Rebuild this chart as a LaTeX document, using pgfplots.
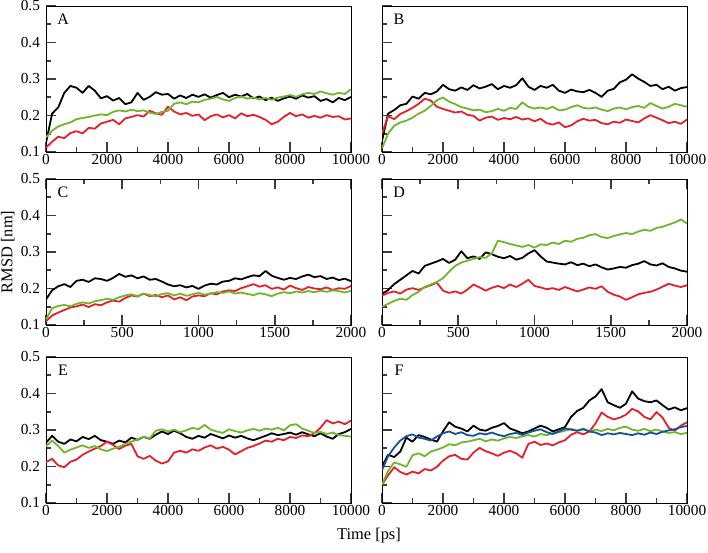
\documentclass[border=0pt]{standalone}
\usepackage{pgfplots}
\usepackage{pgfplotstable}
\pgfplotsset{compat=1.18}
\usepackage{fontspec}
\setmainfont{Liberation Serif}
\definecolor{cred}{RGB}{228,32,42}
\definecolor{cgreen}{RGB}{112,182,42}
\definecolor{cblue}{RGB}{22,82,152}
\definecolor{cframe}{RGB}{60,60,60}

\pgfplotstableread{
t k r g
0 0.125 0.112 0.140
200 0.205 0.128 0.158
400 0.222 0.142 0.170
600 0.262 0.138 0.176
800 0.281 0.152 0.181
1000 0.276 0.157 0.190
1200 0.262 0.151 0.193
1400 0.281 0.166 0.196
1600 0.268 0.164 0.200
1800 0.247 0.178 0.203
2000 0.253 0.183 0.201
2200 0.241 0.188 0.210
2400 0.248 0.176 0.214
2600 0.231 0.192 0.211
2800 0.236 0.196 0.216
3000 0.262 0.201 0.212
3200 0.243 0.197 0.214
3400 0.251 0.213 0.208
3600 0.264 0.206 0.204
3800 0.257 0.202 0.210
4000 0.259 0.224 0.213
4200 0.246 0.211 0.232
4400 0.255 0.203 0.236
4600 0.248 0.207 0.231
4800 0.257 0.199 0.238
5000 0.251 0.203 0.236
5200 0.258 0.187 0.243
5400 0.249 0.198 0.246
5600 0.256 0.203 0.251
5800 0.262 0.195 0.244
6000 0.250 0.201 0.240
6200 0.257 0.192 0.248
6400 0.252 0.206 0.252
6600 0.259 0.198 0.246
6800 0.247 0.202 0.249
7000 0.252 0.196 0.244
7200 0.242 0.188 0.248
7400 0.249 0.176 0.243
7600 0.240 0.183 0.249
7800 0.247 0.196 0.252
8000 0.252 0.207 0.256
8200 0.246 0.198 0.251
8400 0.255 0.203 0.258
8600 0.249 0.194 0.262
8800 0.253 0.199 0.259
9000 0.240 0.194 0.266
9200 0.245 0.201 0.261
9400 0.236 0.196 0.257
9600 0.248 0.198 0.262
9800 0.242 0.189 0.259
10000 0.251 0.192 0.272
}\tabA

\pgfplotstableread{
t k r g
0 0.130 0.150 0.110
200 0.205 0.198 0.150
400 0.215 0.190 0.172
600 0.228 0.204 0.181
800 0.232 0.212 0.186
1000 0.252 0.221 0.194
1200 0.246 0.232 0.205
1400 0.262 0.246 0.213
1600 0.258 0.241 0.226
1800 0.266 0.224 0.242
2000 0.284 0.218 0.249
2200 0.272 0.213 0.238
2400 0.268 0.208 0.231
2600 0.277 0.211 0.223
2800 0.270 0.202 0.219
3000 0.283 0.199 0.214
3200 0.274 0.186 0.216
3400 0.279 0.194 0.209
3600 0.286 0.197 0.212
3800 0.272 0.188 0.218
4000 0.281 0.193 0.213
4200 0.276 0.190 0.221
4400 0.283 0.196 0.218
4600 0.302 0.189 0.236
4800 0.279 0.192 0.224
5000 0.270 0.184 0.219
5200 0.281 0.191 0.222
5400 0.276 0.179 0.218
5600 0.284 0.175 0.224
5800 0.268 0.181 0.214
6000 0.262 0.168 0.216
6200 0.271 0.173 0.223
6400 0.266 0.184 0.228
6600 0.264 0.191 0.221
6800 0.270 0.186 0.219
7000 0.262 0.188 0.222
7200 0.251 0.179 0.216
7400 0.268 0.176 0.212
7600 0.273 0.183 0.219
7800 0.291 0.180 0.222
8000 0.298 0.189 0.217
8200 0.313 0.185 0.223
8400 0.301 0.181 0.226
8600 0.292 0.192 0.221
8800 0.281 0.201 0.234
9000 0.284 0.194 0.226
9200 0.272 0.187 0.219
9400 0.279 0.179 0.224
9600 0.268 0.183 0.232
9800 0.275 0.177 0.228
10000 0.278 0.189 0.224
}\tabB

\pgfplotstableread{
t k r g
0 0.170 0.110 0.115
40 0.195 0.126 0.146
80 0.206 0.134 0.152
120 0.212 0.141 0.155
160 0.204 0.148 0.151
200 0.221 0.151 0.158
240 0.224 0.156 0.162
280 0.218 0.149 0.159
320 0.228 0.157 0.165
360 0.226 0.154 0.168
400 0.221 0.162 0.172
440 0.229 0.167 0.169
480 0.240 0.164 0.176
520 0.232 0.174 0.181
560 0.236 0.181 0.184
600 0.228 0.178 0.179
640 0.233 0.186 0.186
680 0.224 0.179 0.182
720 0.226 0.182 0.178
760 0.219 0.176 0.185
800 0.211 0.181 0.187
840 0.206 0.170 0.181
880 0.209 0.176 0.186
920 0.203 0.168 0.180
960 0.207 0.178 0.184
1000 0.199 0.181 0.188
1040 0.208 0.179 0.183
1080 0.213 0.187 0.186
1120 0.211 0.184 0.190
1160 0.219 0.192 0.188
1200 0.221 0.195 0.192
1240 0.228 0.193 0.186
1280 0.225 0.201 0.189
1320 0.231 0.206 0.185
1360 0.236 0.212 0.182
1400 0.234 0.205 0.187
1440 0.248 0.209 0.184
1480 0.235 0.199 0.179
1520 0.229 0.203 0.186
1560 0.224 0.197 0.190
1600 0.229 0.208 0.187
1640 0.226 0.201 0.192
1680 0.233 0.196 0.189
1720 0.238 0.204 0.193
1760 0.231 0.200 0.190
1800 0.234 0.198 0.194
1840 0.226 0.203 0.191
1880 0.230 0.196 0.195
1920 0.223 0.201 0.193
1960 0.227 0.199 0.189
2000 0.220 0.207 0.194
}\tabC

\pgfplotstableread{
t k r g
0 0.185 0.180 0.150
40 0.196 0.188 0.158
80 0.212 0.192 0.166
120 0.224 0.186 0.172
160 0.236 0.197 0.169
200 0.248 0.201 0.182
240 0.241 0.196 0.191
280 0.262 0.203 0.204
320 0.268 0.209 0.211
360 0.274 0.216 0.218
400 0.281 0.194 0.228
440 0.270 0.188 0.246
480 0.279 0.192 0.262
520 0.302 0.186 0.271
560 0.283 0.197 0.276
600 0.288 0.211 0.281
640 0.281 0.203 0.286
680 0.299 0.194 0.284
720 0.294 0.202 0.296
760 0.287 0.207 0.331
800 0.283 0.201 0.327
840 0.289 0.211 0.322
880 0.279 0.204 0.318
920 0.284 0.213 0.314
960 0.296 0.224 0.319
1000 0.305 0.207 0.312
1040 0.288 0.203 0.321
1080 0.274 0.198 0.319
1120 0.271 0.201 0.326
1160 0.268 0.196 0.322
1200 0.266 0.204 0.331
1240 0.272 0.198 0.328
1280 0.264 0.192 0.336
1320 0.268 0.197 0.339
1360 0.261 0.203 0.346
1400 0.266 0.199 0.349
1440 0.258 0.206 0.341
1480 0.252 0.191 0.338
1520 0.255 0.183 0.344
1560 0.259 0.178 0.348
1600 0.257 0.169 0.352
1640 0.264 0.176 0.349
1680 0.268 0.184 0.356
1720 0.275 0.188 0.361
1760 0.266 0.191 0.358
1800 0.263 0.197 0.366
1840 0.269 0.205 0.369
1880 0.259 0.213 0.375
1920 0.255 0.208 0.381
1960 0.249 0.204 0.389
2000 0.246 0.209 0.378
}\tabD

\pgfplotstableread{
t k r g
0 0.265 0.212 0.255
200 0.284 0.221 0.271
400 0.268 0.203 0.256
600 0.262 0.198 0.238
800 0.274 0.213 0.246
1000 0.269 0.219 0.252
1200 0.281 0.232 0.258
1400 0.275 0.241 0.251
1600 0.284 0.249 0.256
1800 0.272 0.256 0.247
2000 0.268 0.268 0.242
2200 0.262 0.259 0.249
2400 0.271 0.248 0.254
2600 0.266 0.257 0.262
2800 0.279 0.262 0.268
3000 0.273 0.228 0.274
3200 0.281 0.221 0.281
3400 0.276 0.229 0.277
3600 0.287 0.216 0.298
3800 0.296 0.208 0.302
4000 0.289 0.214 0.296
4200 0.298 0.238 0.301
4400 0.291 0.243 0.294
4600 0.281 0.238 0.299
4800 0.276 0.247 0.306
5000 0.284 0.243 0.302
5200 0.279 0.252 0.314
5400 0.289 0.258 0.301
5600 0.283 0.249 0.296
5800 0.277 0.254 0.292
6000 0.285 0.246 0.302
6200 0.279 0.233 0.297
6400 0.284 0.242 0.293
6600 0.277 0.251 0.299
6800 0.272 0.256 0.303
7000 0.278 0.263 0.298
7200 0.284 0.271 0.304
7400 0.291 0.268 0.301
7600 0.286 0.276 0.306
7800 0.289 0.272 0.299
8000 0.293 0.281 0.313
8200 0.287 0.278 0.316
8400 0.294 0.285 0.304
8600 0.288 0.283 0.298
8800 0.283 0.291 0.292
9000 0.291 0.306 0.295
9200 0.282 0.327 0.289
9400 0.276 0.318 0.293
9600 0.289 0.323 0.286
9800 0.294 0.316 0.284
10000 0.303 0.326 0.282
}\tabE

\pgfplotstableread{
t k r g b
0 0.200 0.150 0.150 0.190
200 0.232 0.176 0.188 0.228
400 0.226 0.198 0.211 0.252
600 0.241 0.185 0.206 0.271
800 0.279 0.178 0.199 0.283
1000 0.268 0.186 0.231 0.288
1200 0.286 0.181 0.236 0.279
1400 0.281 0.193 0.228 0.276
1600 0.274 0.189 0.241 0.271
1800 0.268 0.199 0.246 0.282
2000 0.296 0.216 0.252 0.291
2200 0.321 0.228 0.261 0.296
2400 0.309 0.232 0.258 0.289
2600 0.304 0.221 0.266 0.294
2800 0.296 0.219 0.268 0.286
3000 0.312 0.238 0.272 0.284
3200 0.301 0.251 0.276 0.291
3400 0.298 0.242 0.269 0.288
3600 0.306 0.236 0.274 0.293
3800 0.311 0.229 0.271 0.287
4000 0.319 0.238 0.277 0.283
4200 0.304 0.243 0.281 0.289
4400 0.298 0.236 0.278 0.292
4600 0.291 0.224 0.283 0.287
4800 0.296 0.262 0.286 0.293
5000 0.304 0.268 0.282 0.298
5200 0.312 0.259 0.289 0.302
5400 0.306 0.263 0.286 0.294
5600 0.296 0.258 0.291 0.289
5800 0.302 0.266 0.294 0.296
6000 0.308 0.272 0.298 0.304
6200 0.336 0.287 0.303 0.301
6400 0.352 0.294 0.298 0.298
6600 0.361 0.288 0.304 0.302
6800 0.381 0.296 0.296 0.296
7000 0.392 0.318 0.301 0.293
7200 0.412 0.348 0.297 0.286
7400 0.376 0.336 0.303 0.291
7600 0.368 0.329 0.299 0.288
7800 0.361 0.334 0.306 0.292
8000 0.372 0.342 0.309 0.289
8200 0.406 0.358 0.301 0.286
8400 0.386 0.351 0.298 0.291
8600 0.379 0.336 0.303 0.287
8800 0.376 0.329 0.297 0.293
9000 0.381 0.349 0.301 0.289
9200 0.368 0.334 0.296 0.295
9400 0.356 0.306 0.292 0.299
9600 0.362 0.298 0.294 0.302
9800 0.354 0.312 0.289 0.308
10000 0.360 0.321 0.292 0.311
}\tabF

\pgfplotsset{
  base/.style={
    scale only axis, width=228.75pt, height=109.5pt,
    anchor=north west,
    ymin=0.1, ymax=0.5, ytick={0.1,0.2,0.3,0.4,0.5},
    minor x tick num=1, minor y tick num=1,
    tick label style={font=\fontsize{11.5}{13}\selectfont},
    /pgf/number format/assume math mode=true,
    scaled ticks=false,
    yticklabel style={/pgf/number format/fixed, /pgf/number format/fixed zerofill, /pgf/number format/precision=1, xshift=-1pt},
    xticklabel style={/pgf/number format/set thousands separator={}, /pgf/number format/fixed, yshift=2pt},
    every axis plot/.append style={line width=1.35pt, line join=round},
  },
  long/.style={xmin=0, xmax=10000, xtick={0,2000,4000,6000,8000,10000}},
  short/.style={xmin=0, xmax=2000, xtick={0,500,1000,1500,2000}},
  noy/.style={yticklabels={}},
}

\newcommand{\letter}[1]{\node[font=\fontsize{12}{14}\selectfont] at (rel axis cs:0.056,0.912) {#1};}

\begin{document}
\begin{tikzpicture}
\useasboundingbox (0,0) rectangle (531pt,-414.75pt);

% A
\begin{axis}[base, long, at={(34.5pt,-4.5pt)}, tick align=inside, tick pos=left, tick style={cframe, line width=1.2pt}, major tick length=7.5pt, minor tick length=3.8pt]
\addplot[black] table[x=t,y=k] {\tabA};
\addplot[cred] table[x=t,y=r] {\tabA};
\addplot[cgreen] table[x=t,y=g] {\tabA};
\letter{A}
\end{axis}

% B
\begin{axis}[base, long, noy, at={(286.5pt,-4.5pt)}, tick align=inside, tick pos=left, tick style={cframe, line width=1.2pt}, major tick length=7.5pt, minor tick length=3.8pt]
\addplot[black] table[x=t,y=k] {\tabB};
\addplot[cred] table[x=t,y=r] {\tabB};
\addplot[cgreen] table[x=t,y=g] {\tabB};
\letter{B}
\end{axis}

% C
\begin{axis}[base, short, at={(34.5pt,-134.25pt)}, tick align=inside, ytick pos=left, xtick pos=both, tick style={cframe, line width=1.2pt}, major tick length=7.5pt, minor tick length=3.8pt]
\addplot[black] table[x=t,y=k] {\tabC};
\addplot[cred] table[x=t,y=r] {\tabC};
\addplot[cgreen] table[x=t,y=g] {\tabC};
\letter{C}
\end{axis}

% D
\begin{axis}[base, short, noy, at={(286.5pt,-134.25pt)}, tick align=inside, ytick pos=left, xtick pos=both, tick style={cframe, line width=1.2pt}, major tick length=7.5pt, minor tick length=3.8pt]
\addplot[black] table[x=t,y=k] {\tabD};
\addplot[cred] table[x=t,y=r] {\tabD};
\addplot[cgreen] table[x=t,y=g] {\tabD};
\letter{D}
\end{axis}

% E
\begin{axis}[base, long, at={(34.5pt,-267.75pt)}, tick align=inside, tick pos=left, tick style={cframe, line width=1.2pt}, major tick length=7.5pt, minor tick length=3.8pt]
\addplot[black] table[x=t,y=k] {\tabE};
\addplot[cred] table[x=t,y=r] {\tabE};
\addplot[cgreen] table[x=t,y=g] {\tabE};
\letter{E}
\end{axis}

% F
\begin{axis}[base, long, noy, at={(286.5pt,-267.75pt)}, tick align=inside, tick pos=left, tick style={cframe, line width=1.2pt}, major tick length=7.5pt, minor tick length=3.8pt]
\addplot[black] table[x=t,y=k] {\tabF};
\addplot[cred] table[x=t,y=r] {\tabF};
\addplot[cgreen] table[x=t,y=g] {\tabF};
\addplot[cblue] table[x=t,y=b] {\tabF};
\letter{F}
\end{axis}

\node[rotate=90, font=\fontsize{12.3}{14}\selectfont] at (5.8pt,-189pt) {RMSD [nm]};
\node[font=\fontsize{12.3}{14}\selectfont] at (276.75pt,-402pt) {Time [ps]};
\end{tikzpicture}
\end{document}
